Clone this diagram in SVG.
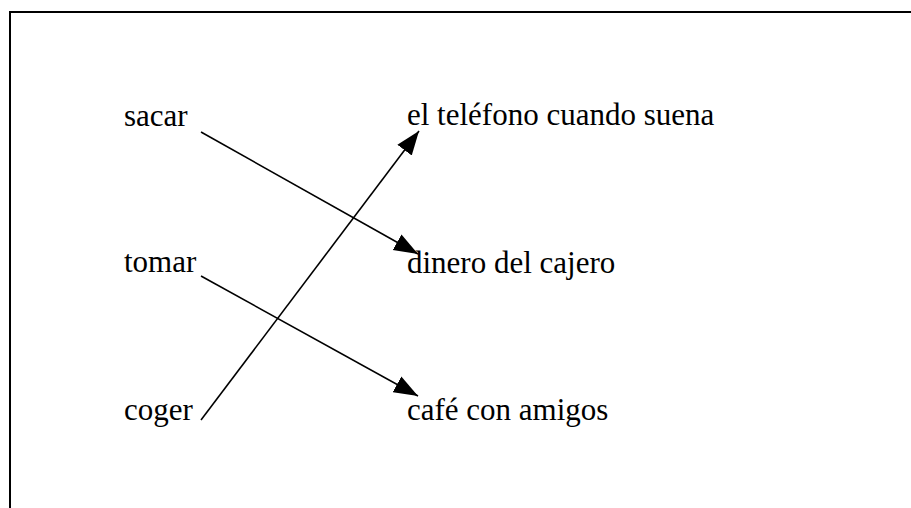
<svg xmlns="http://www.w3.org/2000/svg" width="911" height="508" viewBox="0 0 911 508">
<style>
.t{font-family:"Liberation Serif","Times New Roman",serif;font-size:31px;fill:#000}
.c{stroke:#000;stroke-width:1.6;fill:none;marker-end:url(#ah)}
</style>
<defs>
<marker id="ah" markerUnits="userSpaceOnUse" markerWidth="26" markerHeight="20" refX="24" refY="9" orient="auto" viewBox="0 0 26 18">
<path d="M0,0 L24,9 L0,18 Z" fill="#000"/>
</marker>
</defs>
<rect width="911" height="508" fill="#fff"/>
<path d="M10,508 V12 H911" fill="none" stroke="#000" stroke-width="2"/>
<g id="n-sacar"><text class="t" x="124" y="126">sacar</text></g>
<g id="n-tomar"><text class="t" x="124" y="272">tomar</text></g>
<g id="n-coger"><text class="t" x="124" y="420">coger</text></g>
<g id="n-telefono"><text class="t" x="407" y="125">el teléfono cuando suena</text></g>
<g id="n-dinero"><text class="t" x="407" y="273">dinero del cajero</text></g>
<g id="n-cafe"><text class="t" x="407" y="420">café con amigos</text></g>
<g id="connectors">
<line class="c" x1="201" y1="132" x2="418" y2="254"/>
<line class="c" x1="201" y1="276" x2="418" y2="396"/>
<line class="c" x1="201" y1="420" x2="419" y2="131"/>
</g>
</svg>
